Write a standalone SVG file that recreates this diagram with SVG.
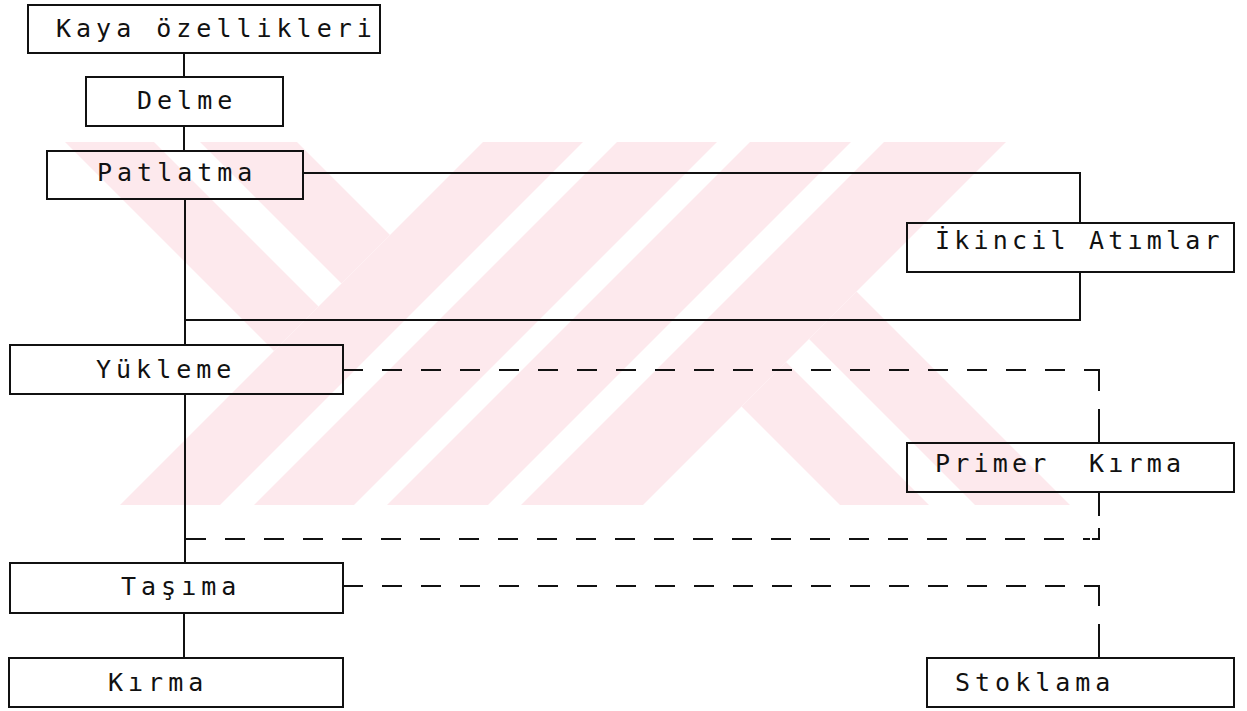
<svg xmlns="http://www.w3.org/2000/svg" width="1247" height="711" viewBox="0 0 1247 711">
<defs>
<clipPath id="wmclip"><rect x="0" y="142" width="1247" height="363"/></clipPath>
<style>
.wm { fill:#fde9ed; stroke:none }
.box { fill:none; stroke:#111; stroke-width:2 }
.ln { fill:none; stroke:#111; stroke-width:2 }
.dash { stroke-dasharray:20 19 }
.lbl { font-family:"DejaVu Sans Mono","Liberation Mono",monospace; font-size:25px; letter-spacing:5px; fill:#111; white-space:pre }
.tight { letter-spacing:4.2px }
</style>
</defs>
<rect width="1247" height="711" fill="#ffffff"/>
<g id="watermark" clip-path="url(#wmclip)">
<polygon class="wm" points="23,100 112,100 318.5,306.5 274,351"/>
<polygon class="wm" points="158,100 255,100 390,235 341.5,283.5"/>
<polygon class="wm" points="525,100 625,100 175,550 75,550"/>
<polygon class="wm" points="659,100 759,100 309,550 209,550"/>
<polygon class="wm" points="792,100 893,100 443,550 342,550"/>
<polygon class="wm" points="926,100 1048,100 598,550 476,550"/>
<polygon class="wm" points="741.5,406.5 786,362 974,550 885,550"/>
<polygon class="wm" points="809,339 856.5,291.5 1115,550 1020,550"/>
</g>
<g id="connectors">
<path class="ln" d="M184,53 V77"/>
<path class="ln" d="M184,126 V151"/>
<path class="ln" d="M185,199 V345"/>
<path class="ln" d="M303,173 H1080 V223"/>
<path class="ln" d="M1080,272 V320 H185"/>
<path class="ln" d="M185,394 V563"/>
<path class="ln dash" d="M343,370 H1093"/>
<path class="ln" d="M1092,370 H1099 V391 M1099,409 V443"/>
<path class="ln" d="M1099,492 V516 M1099,528 V539 H1092"/>
<path class="ln dash" d="M186,539 H1090"/>
<path class="ln dash" d="M343,586 H1093"/>
<path class="ln" d="M1092,586 H1099 V606 M1099,624 V658"/>
<path class="ln" d="M184,613 V658"/>
</g>
<g id="n-kaya"><rect class="box" x="28" y="5" width="352" height="48"/><text class="lbl" x="56" y="37">Kaya özellikleri</text></g>
<g id="n-delme"><rect class="box" x="86" y="77" width="197" height="49"/><text class="lbl" x="137" y="109">Delme</text></g>
<g id="n-patlatma"><rect class="box" x="47" y="151" width="256" height="48"/><text class="lbl" x="97" y="181">Patlatma</text></g>
<g id="n-ikincil"><rect class="box" x="907" y="223" width="327" height="49"/><text class="lbl tight" x="935" y="249">İkincil Atımlar</text></g>
<g id="n-yukleme"><rect class="box" x="10" y="345" width="333" height="49"/><text class="lbl" x="96" y="378">Yükleme</text></g>
<g id="n-primer"><rect class="box" x="907" y="443" width="327" height="49"/><text class="lbl tight" x="935" y="472" xml:space="preserve">Primer  Kırma</text></g>
<g id="n-tasima"><rect class="box" x="10" y="563" width="333" height="50"/><text class="lbl" x="121" y="595">Taşıma</text></g>
<g id="n-kirma"><rect class="box" x="9" y="658" width="334" height="49"/><text class="lbl" x="108" y="691">Kırma</text></g>
<g id="n-stoklama"><rect class="box" x="927" y="658" width="307" height="49"/><text class="lbl" x="955" y="691">Stoklama</text></g>
</svg>
